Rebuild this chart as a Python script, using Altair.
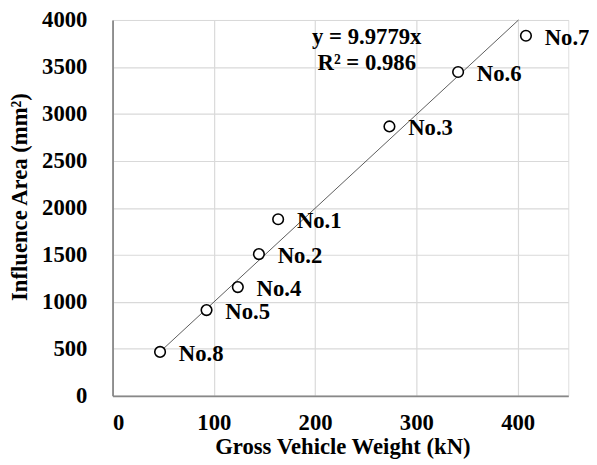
import altair as alt
import pandas as pd

# data
vehicles = ["No.1", "No.2", "No.3", "No.4", "No.5", "No.6", "No.7", "No.8"]
gvw_kn = [163.5, 144.5, 273.4, 123.7, 92.8, 341.2, 408.2, 46.9]
influence_area = [1879, 1508, 2867, 1157, 912, 3446, 3832, 467]

slope = 9.9779
r2 = 0.986
x_ticks = [0, 100, 200, 300, 400]
y_ticks = [0, 500, 1000, 1500, 2000, 2500, 3000, 3500, 4000]
x_max = 450
y_max = 4000

eq_lines = [f"y = {slope}x", f"R\u00b2 = {r2}"]
eq_x = [251, 251]
eq_y = [3745, 3470]

FONT = "Liberation Serif"
FS = 23

df = pd.DataFrame({"veh": vehicles, "x": gvw_kn, "y": influence_area})
x_start = min(gvw_kn)
x_end = min(max(gvw_kn), y_max / slope)
trend = pd.DataFrame({"x": [x_start, x_end], "y": [slope * x_start, slope * x_end]})
eq = pd.DataFrame({"t": eq_lines, "x": eq_x, "y": eq_y})

xs = alt.Scale(domain=[0, x_max], nice=False)
ys = alt.Scale(domain=[0, y_max], nice=False)

xax = alt.Axis(values=x_ticks, format="d", title="Gross Vehicle Weight (kN)", grid=True,
               gridColor="#d9d9d9", gridWidth=1.2, domainColor="#888888", domainWidth=1.8,
               ticks=False, labelPadding=16, labelFont=FONT, labelFontSize=FS,
               labelFontWeight="bold", labelColor="black", titleFont=FONT, titleFontSize=FS,
               titleFontWeight="bold", titleColor="black",
               titleBaseline="alphabetic", titleY=59, titleX=233)
yax = alt.Axis(values=y_ticks, format="d", title="Influence Area (mm\u00b2)", grid=True,
               gridColor="#d9d9d9", gridWidth=1.2, domainColor="#888888", domainWidth=1.8,
               ticks=False, labelPadding=26, labelFont=FONT, labelFontSize=FS,
               labelFontWeight="bold", labelColor="black", titleFont=FONT, titleFontSize=FS,
               titleFontWeight="bold", titleColor="black",
               titleBaseline="middle", titleX=-94, titleY=179)

line = alt.Chart(trend).mark_line(color="#333333", strokeWidth=0.8).encode(
    x=alt.X("x:Q", scale=xs, axis=xax), y=alt.Y("y:Q", scale=ys, axis=yax))

pts = alt.Chart(df).mark_point(shape="circle", size=115, filled=False, color="black",
                               fill="white", fillOpacity=1, strokeWidth=1.6, opacity=1).encode(
    x=alt.X("x:Q", scale=xs), y=alt.Y("y:Q", scale=ys))

labels = alt.Chart(df).mark_text(align="left", baseline="middle", dx=19, dy=2, font=FONT,
                                 fontSize=FS, fontWeight="bold", color="black").encode(
    x=alt.X("x:Q", scale=xs), y=alt.Y("y:Q", scale=ys), text="veh:N")

eqt = alt.Chart(eq).mark_text(align="center", baseline="alphabetic", font=FONT, fontSize=FS,
                              fontWeight="bold", color="black").encode(
    x=alt.X("x:Q", scale=xs), y=alt.Y("y:Q", scale=ys), text="t:N")

chart = alt.layer(line, pts, labels, eqt).properties(
    width=462, height=381,
    autosize=alt.AutoSizeParams(type="none"),
    padding={"left": 106, "top": 9, "right": 21, "bottom": 66},
).configure_view(stroke=None).configure(background="white")

chart.save("out.html", embed_options={"renderer": "svg", "actions": False})
